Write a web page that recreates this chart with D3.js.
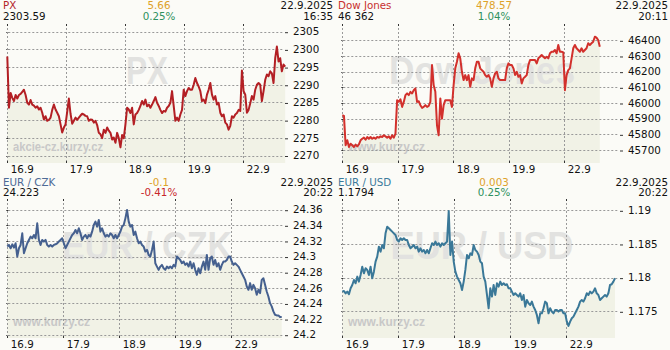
<!DOCTYPE html>
<html>
<head>
<meta charset="utf-8">
<script src="https://cdn.jsdelivr.net/npm/d3@7"></script>
<style>
  body { margin: 0; background: #fbfbf7; }
  svg { display: block; font-family: "DejaVu Sans", Verdana, sans-serif; }
</style>
</head>
<body>
<div id="canvas"></div>
<script>
"use strict"

/* Trading days shown on every x axis */
let days = ["16.9", "17.9", "18.9", "19.9", "22.9"];

/* PX index, intraday samples */
let pxValues = [
  2298.0, 2283.5, 2287.7, 2286.3, 2285.4, 2287.1, 2286.1, 2287.1, 2287.4, 2288.0,
  2288.6, 2287.1, 2284.9, 2284.4, 2285.7, 2284.4, 2284.1, 2283.5, 2283.9, 2283.0,
  2283.5, 2282.1, 2280.2, 2281.1, 2279.8, 2280.1, 2280.7, 2282.9, 2284.4, 2283.0,
  2282.1, 2281.1, 2278.8, 2276.5, 2277.9, 2278.8, 2282.4, 2286.1, 2281.8, 2279.0,
  2279.8, 2280.7, 2280.1, 2280.7, 2281.3, 2281.8, 2281.6, 2281.2, 2281.1, 2279.8,
  2280.2, 2280.1, 2279.3, 2279.8, 2278.6, 2276.4, 2276.0, 2274.9, 2277.3, 2276.4,
  2277.9, 2277.0, 2276.4, 2274.5, 2275.1, 2273.6, 2276.4, 2274.9, 2272.3, 2275.8,
  2274.9, 2278.8, 2283.5, 2283.0, 2282.0, 2283.5, 2278.8, 2281.6, 2282.0, 2282.9,
  2284.0, 2285.4, 2284.4, 2285.8, 2283.9, 2284.4, 2283.5, 2284.4, 2285.4, 2286.5,
  2284.9, 2284.0, 2282.9, 2282.0, 2282.6, 2282.4, 2283.5, 2284.0, 2284.9, 2288.2,
  2284.0, 2279.8, 2280.7, 2279.8, 2281.6, 2282.9, 2288.6, 2286.8, 2288.2, 2289.1,
  2288.6, 2288.6, 2290.0, 2291.9, 2290.5, 2289.5, 2288.2, 2285.4, 2285.8, 2284.8,
  2287.2, 2288.6, 2290.5, 2287.2, 2285.8, 2286.8, 2284.4, 2284.9, 2282.1, 2281.1,
  2281.6, 2279.3, 2278.8, 2277.3, 2278.4, 2281.1, 2280.7, 2281.6, 2282.0, 2282.9,
  2282.6, 2294.0, 2288.2, 2287.2, 2282.1, 2282.9, 2284.8, 2286.8, 2285.8, 2288.6,
  2290.0, 2290.5, 2290.0, 2285.4, 2288.2, 2291.4, 2292.9, 2292.4, 2293.8, 2293.2,
  2290.5, 2297.5, 2300.8, 2296.6, 2297.5, 2293.8, 2295.7, 2295.1
];
let pxLast = 4.71; // last sample, in trading days from 16.9
let pxTicks = [2270, 2275, 2280, 2285, 2290, 2295, 2300, 2305];
let pxHeader = ["PX", "2303.59", "5.66", "0.25%", "22.9.2025", "16:35"];

/* Dow Jones */
let dowValues = [
  45922, 45918, 45730, 45762, 45719, 45740, 45730, 45719, 45734, 45723,
  45736, 45762, 45772, 45779, 45766, 45783, 45772, 45783, 45772, 45779,
  45772, 45783, 45779, 45787, 45783, 45794, 45787, 45779, 45787, 45772,
  45794, 45779, 45804, 46018, 46007, 46024, 45975, 46007, 46050, 46061,
  46050, 46071, 46061, 46082, 46093, 46007, 46011, 45986, 45969, 45975,
  45986, 45975, 45982, 46007, 46242, 46114, 46071, 45858, 45794, 46029,
  45900, 45986, 46018, 46018, 46018, 46018, 45975, 46114, 46221, 46263,
  46317, 46285, 46199, 46146, 46178, 46146, 46178, 46103, 46157, 46146,
  46221, 46263, 46263, 46221, 46210, 46199, 46178, 46167, 46178, 46157,
  46103, 46157, 46189, 46199, 46157, 46146, 46146, 46146, 46146, 46221,
  46253, 46242, 46242, 46221, 46178, 46199, 46167, 46178, 46125, 46157,
  46167, 46178, 46242, 46274, 46274, 46274, 46274, 46253, 46285, 46295,
  46306, 46295, 46285, 46295, 46285, 46317, 46327, 46327, 46338, 46317,
  46370, 46327, 46327, 46323, 46082, 46178, 46210, 46221, 46285, 46349,
  46370, 46349, 46338, 46327, 46349, 46327, 46338, 46349, 46381, 46370,
  46381, 46391, 46423, 46417, 46402, 46359
];
let dowLast = 4.64;
let dowTicks = [45700, 45800, 45900, 46000, 46100, 46200, 46300, 46400];
let dowHeader = ["Dow Jones", "46 362", "478.57", "1.04%", "22.9.2025", "20:11"];

/* EUR / CZK */
let czkValues = [
  24.3128, 24.3149, 24.3106, 24.3157, 24.3115, 24.3170, 24.3000, 24.3106, 24.3149, 24.3298,
  24.3043, 24.3106, 24.3170, 24.3213, 24.3255, 24.3234, 24.3277, 24.3234, 24.3426, 24.3213,
  24.3149, 24.3213, 24.3192, 24.3213, 24.3149, 24.3128, 24.3149, 24.3128, 24.3149, 24.3157,
  24.3170, 24.3192, 24.3213, 24.3234, 24.3170, 24.3106, 24.3149, 24.3192, 24.3234, 24.3277,
  24.3298, 24.3340, 24.3298, 24.3362, 24.3298, 24.3213, 24.3255, 24.3277, 24.3234, 24.3277,
  24.3255, 24.3319, 24.3404, 24.3447, 24.3383, 24.3468, 24.3319, 24.3362, 24.3298, 24.3255,
  24.3277, 24.3255, 24.3298, 24.3277, 24.3234, 24.3277, 24.3234, 24.3277, 24.3319, 24.3383,
  24.3404, 24.3489, 24.3596, 24.3447, 24.3383, 24.3404, 24.3277, 24.3319, 24.3234, 24.3170,
  24.3192, 24.3149, 24.3128, 24.3064, 24.3085, 24.3021, 24.3000, 24.3085, 24.3192, 24.2915,
  24.2872, 24.2830, 24.2872, 24.2894, 24.2851, 24.2830, 24.2872, 24.2851, 24.2872, 24.2851,
  24.2894, 24.2872, 24.3000, 24.2979, 24.2957, 24.2915, 24.2936, 24.2894, 24.2915, 24.2872,
  24.2936, 24.2851, 24.2915, 24.2830, 24.2766, 24.2851, 24.2787, 24.2872, 24.2936, 24.2830,
  24.3021, 24.2830, 24.2979, 24.3000, 24.2894, 24.2957, 24.2872, 24.2915, 24.2830, 24.2894,
  24.2936, 24.2936, 24.2957, 24.3000, 24.3000, 24.2936, 24.2894, 24.2915, 24.2894, 24.2872,
  24.2830, 24.2787, 24.2745, 24.2702, 24.2617, 24.2575, 24.2660, 24.2575, 24.2638, 24.2596,
  24.2511, 24.2575, 24.2532, 24.2702, 24.2723, 24.2638, 24.2553, 24.2489, 24.2404, 24.2362,
  24.2298, 24.2255, 24.2247, 24.2247, 24.2226, 24.2226
];
let czkLast = 4.90;
let czkTicks = [24.2, 24.22, 24.24, 24.26, 24.28, 24.3, 24.32, 24.34, 24.36];
let czkHeader = ["EUR / CZK", "24.223", "-0.1", "-0.41%", "22.9.2025", "20:22"];

/* EUR / USD */
let usdValues = [
  1.17792, 1.17802, 1.17767, 1.17792, 1.17753, 1.17842, 1.17891, 1.17965, 1.17916, 1.18015,
  1.17941, 1.18040, 1.18163, 1.18064, 1.18139, 1.18114, 1.18040, 1.18163, 1.17990, 1.18089,
  1.18238, 1.18312, 1.18460, 1.18386, 1.18485, 1.18436, 1.18658, 1.18757, 1.18733, 1.18708,
  1.18683, 1.18658, 1.18634, 1.18559, 1.18535, 1.18584, 1.18559, 1.18584, 1.18559, 1.18559,
  1.18485, 1.18436, 1.18460, 1.18485, 1.18436, 1.18460, 1.18386, 1.18436, 1.18386, 1.18411,
  1.18361, 1.18411, 1.18361, 1.18436, 1.18510, 1.18485, 1.18535, 1.18485, 1.18510, 1.18460,
  1.18510, 1.18485, 1.18510, 1.18535, 1.18990, 1.18337, 1.18535, 1.18238, 1.18089, 1.18015,
  1.17965, 1.17916, 1.17817, 1.17941, 1.18114, 1.18337, 1.18287, 1.18361, 1.18337, 1.18485,
  1.18411, 1.18386, 1.18337, 1.18238, 1.18213, 1.18015, 1.17941, 1.17743, 1.17545, 1.17842,
  1.17718, 1.17891, 1.17743, 1.17916, 1.17866, 1.17941, 1.17891, 1.17916, 1.17891, 1.17901,
  1.17842, 1.17842, 1.17792, 1.17743, 1.17767, 1.17743, 1.17718, 1.17767, 1.17668, 1.17743,
  1.17569, 1.17668, 1.17619, 1.17594, 1.17644, 1.17569, 1.17520, 1.17446, 1.17322, 1.17470,
  1.17470, 1.17545, 1.17644, 1.17619, 1.17470, 1.17545, 1.17495, 1.17470, 1.17520, 1.17520,
  1.17495, 1.17520, 1.17520, 1.17470, 1.17470, 1.17347, 1.17282, 1.17347, 1.17396, 1.17421,
  1.17470, 1.17520, 1.17569, 1.17644, 1.17668, 1.17644, 1.17693, 1.17767, 1.17743, 1.17792,
  1.17767, 1.17792, 1.17842, 1.17767, 1.17743, 1.17668, 1.17693, 1.17718, 1.17743, 1.17718,
  1.17767, 1.17891, 1.17901, 1.17941, 1.17990
];
let usdLast = 4.87;
let usdTicks = [1.175, 1.18, 1.185, 1.19];
let usdHeader = ["EUR / USD", "1.1794", "0.003", "0.25%", "22.9.2025", "20:22"];

/* Canvas */
let svgWidth = 670;
let svgHeight = 350;

let svg = d3.select("#canvas")
    .append("svg")
    .attr("width", svgWidth)
    .attr("height", svgHeight);

svg.append("rect")
    .attr("width", svgWidth)
    .attr("height", svgHeight)
    .attr("fill", "#fbfbf7");

/* Panel layout: origin, pixel of last day and of lowest/highest tick */
let panels = [
    { values: pxValues, last: pxLast, ticks: pxTicks, header: pxHeader, mark: "PX", site: "akcie-cz.kurzy.cz",
      ox: 0, oy: 0, dayEnd: 243.3, yLow: 155.5, yHigh: 31.7, markLen: 42, labelY: 173, headY: 9,
      titleColor: "#b3242a", lineColor: "#b31f24", pctColor: "#2e9160" },
    { values: dowValues, last: dowLast, ticks: dowTicks, header: dowHeader, mark: "Dow Jones", site: "www.kurzy.cz",
      ox: 335, oy: 0, dayEnd: 229.3, yLow: 150, yHigh: 40.3, markLen: 186, labelY: 173, headY: 9,
      titleColor: "#c8302f", lineColor: "#d2302c", pctColor: "#2e9160" },
    { values: czkValues, last: czkLast, ticks: czkTicks, header: czkHeader, mark: "EUR / CZK", site: "www.kurzy.cz",
      ox: 0, oy: 175, dayEnd: 231.3, yLow: 159.7, yHigh: 34.7, markLen: 170, labelY: 172.5, headY: 10.5,
      titleColor: "#4d6a96", lineColor: "#45608f", pctColor: "#c8262b" },
    { values: usdValues, last: usdLast, ticks: usdTicks, header: usdHeader, mark: "EUR / USD", site: "www.kurzy.cz",
      ox: 335, oy: 175, dayEnd: 231.3, yLow: 136.3, yHigh: 35.3, markLen: 183, labelY: 172.5, headY: 10.5,
      titleColor: "#3b7b9c", lineColor: "#3a7898", pctColor: "#2e9160" }
];

panels.forEach(function (p) {
    let g = svg.append("g");
    let left = p.ox + 7.3;
    let right = p.ox + 284;
    let top = p.oy + 24;
    let bottom = p.oy + 163;

    let xScale = d3.scaleLinear()
        .domain([0, days.length - 1])
        .range([left, p.ox + p.dayEnd]);

    let yScale = d3.scaleLinear()
        .domain([p.ticks[0], p.ticks[p.ticks.length - 1]])
        .range([p.oy + p.yLow, p.oy + p.yHigh]);

    /* samples are evenly spaced in time */
    let step = p.last / (p.values.length - 1);
    let points = p.values.map(function (v, i) { return [i * step, v]; });

    /* shaded area under the line */
    g.append("path")
        .datum(points)
        .attr("fill", "#f1f2e6")
        .attr("d", d3.area()
            .x(function (d) { return xScale(d[0]); })
            .y0(bottom)
            .y1(function (d) { return yScale(d[1]); }));

    /* big watermark */
    g.append("text")
        .attr("x", p.ox + 147)
        .attr("y", p.oy + 84)
        .attr("text-anchor", "middle")
        .attr("font-family", "Liberation Sans, Arial, sans-serif")
        .attr("font-weight", "bold")
        .attr("font-size", 38)
        .attr("fill", "#e2e2e0")
        .attr("textLength", p.markLen)
        .attr("lengthAdjust", "spacingAndGlyphs")
        .text(p.mark);

    /* small site watermark */
    g.append("text")
        .attr("x", p.ox + 13)
        .attr("y", p.oy + 151)
        .attr("font-family", "Liberation Sans, Arial, sans-serif")
        .attr("font-weight", "bold")
        .attr("font-size", 12)
        .attr("fill", "#c8c8c8")
        .attr("textLength", p.site.length > 12 ? 90 : 77)
        .attr("lengthAdjust", "spacingAndGlyphs")
        .text(p.site);

    /* horizontal gridlines */
    p.ticks.forEach(function (t) {
        let y = Math.round(yScale(t)) + 0.5;
        g.append("line")
            .attr("x1", left + 1).attr("x2", right)
            .attr("y1", y).attr("y2", y)
            .attr("stroke", "#999")
            .attr("stroke-dasharray", "2,2");
        g.append("line")
            .attr("x1", left - 1).attr("x2", left + 1)
            .attr("y1", y).attr("y2", y)
            .attr("stroke", "#333");
    });

    /* vertical gridlines, one per day */
    days.forEach(function (d, i) {
        let x = Math.round(xScale(i)) + 0.5;
        g.append("line")
            .attr("x1", x).attr("x2", x)
            .attr("y1", top).attr("y2", bottom)
            .attr("stroke", "#999")
            .attr("stroke-dasharray", "2,2");
        g.append("line")
            .attr("x1", x).attr("x2", x)
            .attr("y1", top).attr("y2", top + 2)
            .attr("stroke", "#333");
        g.append("line")
            .attr("x1", x).attr("x2", x)
            .attr("y1", bottom - 2).attr("y2", bottom)
            .attr("stroke", "#333");
        g.append("text")
            .attr("x", xScale(i) + 3.5)
            .attr("y", p.oy + p.labelY)
            .attr("font-size", 10.3)
            .attr("fill", "#111")
            .text(d);
    });

    /* price line */
    g.append("path")
        .datum(points)
        .attr("fill", "none")
        .attr("stroke", p.lineColor)
        .attr("stroke-width", 2)
        .attr("stroke-linejoin", "round")
        .attr("d", d3.line()
            .x(function (d) { return xScale(d[0]); })
            .y(function (d) { return yScale(d[1]); }));

    /* y axis on the right */
    let yAxis = g.append("g")
        .attr("transform", "translate(" + (p.ox + 285) + ",0)")
        .call(d3.axisRight(yScale)
            .tickValues(p.ticks)
            .tickSize(3)
            .tickPadding(5)
            .tickFormat(function (t) { return String(t); }));
    yAxis.select(".domain").remove();
    yAxis.selectAll("line")
        .attr("stroke", "#333")
        .attr("transform", "translate(0,0.5)");
    yAxis.selectAll("text")
        .attr("font-family", "DejaVu Sans, Verdana, sans-serif")
        .attr("font-size", 10.3)
        .attr("fill", "#111");

    /* header: two rows of text */
    let h = p.header;
    let hy = p.oy + p.headY;
    let rows = [
        [p.ox + 3, hy, "start", p.titleColor, h[0]],
        [p.ox + 3, hy + 10.8, "start", "#111", h[1]],
        [p.ox + 159, hy, "middle", "#dea22a", h[2]],
        [p.ox + 159, hy + 10.8, "middle", p.pctColor, h[3]],
        [p.ox + 333, hy, "end", "#111", h[4]],
        [p.ox + 333, hy + 10.8, "end", "#111", h[5]]
    ];
    rows.forEach(function (r) {
        g.append("text")
            .attr("x", r[0])
            .attr("y", r[1])
            .attr("text-anchor", r[2])
            .attr("font-size", 10.3)
            .attr("fill", r[3])
            .text(r[4]);
    });
});
</script>
</body>
</html>
